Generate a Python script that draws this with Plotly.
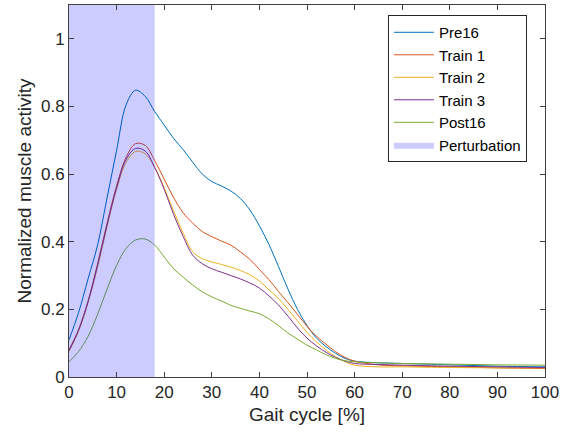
import plotly.graph_objects as go

gait = [0, 2, 4, 6, 8, 10, 12, 14, 16, 18, 20, 22, 24, 26, 28, 30, 32, 34, 36, 38,
        40, 42, 44, 46, 48, 50, 52, 54, 56, 58, 60, 65, 70, 80, 90, 100]

pre16 = [0.11, 0.19, 0.29, 0.39, 0.53, 0.67, 0.805, 0.848, 0.83, 0.785, 0.745, 0.705,
         0.672, 0.635, 0.60, 0.578, 0.565, 0.55, 0.528, 0.494, 0.447, 0.392, 0.327,
         0.26, 0.2, 0.152, 0.115, 0.09, 0.07, 0.055, 0.047, 0.042, 0.04, 0.036,
         0.032, 0.03]
train1 = [0.08, 0.14, 0.225, 0.335, 0.455, 0.565, 0.65, 0.69, 0.685, 0.64, 0.585, 0.53,
          0.485, 0.455, 0.43, 0.415, 0.402, 0.39, 0.37, 0.348, 0.318, 0.288, 0.253, 0.22,
          0.185, 0.15, 0.12, 0.097, 0.075, 0.058, 0.047, 0.036, 0.033, 0.03, 0.027, 0.025]
train2 = [0.075, 0.135, 0.22, 0.325, 0.445, 0.555, 0.635, 0.667, 0.66, 0.62, 0.56, 0.49,
          0.425, 0.37, 0.35, 0.34, 0.333, 0.325, 0.315, 0.302, 0.284, 0.258, 0.232, 0.2,
          0.166, 0.132, 0.104, 0.08, 0.06, 0.045, 0.035, 0.03, 0.03, 0.028, 0.027, 0.027]
train3 = [0.078, 0.138, 0.222, 0.33, 0.45, 0.56, 0.643, 0.676, 0.668, 0.62, 0.555, 0.48,
          0.415, 0.36, 0.335, 0.32, 0.31, 0.30, 0.29, 0.278, 0.263, 0.24, 0.213, 0.18,
          0.145, 0.115, 0.092, 0.073, 0.058, 0.047, 0.04, 0.037, 0.035, 0.032, 0.03, 0.028]
post16 = [0.045, 0.075, 0.12, 0.185, 0.26, 0.33, 0.38, 0.405, 0.408, 0.39, 0.355, 0.32,
          0.295, 0.272, 0.252, 0.237, 0.225, 0.212, 0.203, 0.195, 0.187, 0.172, 0.152,
          0.13, 0.112, 0.094, 0.08, 0.066, 0.055, 0.048, 0.045, 0.042, 0.04, 0.038,
          0.036, 0.035]

series_names = ["Pre16", "Train 1", "Train 2", "Train 3", "Post16"]
series_vals = [pre16, train1, train2, train3, post16]
colors = ["#0072BD", "#D95319", "#EDB120", "#7E2F8E", "#77AC30"]

pert_start, pert_end = 0, 18
y_max = 1.1

x_ticks = list(range(0, 101, 10))
y_ticks = [0, 0.2, 0.4, 0.6, 0.8, 1]
y_tick_labels = ["0", "0.2", "0.4", "0.6", "0.8", "1"]

fig = go.Figure()
for name, vals, c in zip(series_names, series_vals, colors):
    fig.add_trace(go.Scatter(x=gait, y=vals, mode="lines", name=name,
                             line=dict(color=c, width=1, shape="spline", smoothing=1)))

fig.add_trace(go.Scatter(
    x=[pert_start, pert_end, pert_end, pert_start, pert_start],
    y=[0, 0, y_max, y_max, 0],
    mode="lines", fill="toself", fillcolor="rgba(0,0,255,0.2)",
    line=dict(width=0, color="rgba(0,0,255,0)"), name="Perturbation"))

axis_common = dict(showline=True, linecolor="#404040", linewidth=1, mirror="ticks",
                   ticks="inside", ticklen=5, tickcolor="#404040", showgrid=False,
                   zeroline=False, automargin=False,
                   tickfont=dict(size=17, color="#262626"))

fig.update_xaxes(range=[0, 100], tickvals=x_ticks,
                 title=dict(text="Gait cycle [%]", font=dict(size=19, color="#262626"), standoff=6),
                 **axis_common)
fig.update_yaxes(range=[0, y_max], tickvals=y_ticks, ticktext=y_tick_labels,
                 title=dict(text="Normalized muscle activity", font=dict(size=19, color="#262626"), standoff=4),
                 **axis_common)

fig.update_layout(
    width=563, height=438,
    margin=dict(l=69, r=18, t=5, b=61),
    paper_bgcolor="white", plot_bgcolor="white",
    font=dict(family="Liberation Sans, Arial, sans-serif", size=16, color="#262626"),
    legend=dict(x=0.962, y=0.973, xanchor="right", yanchor="top",
                bgcolor="white", bordercolor="#262626", borderwidth=1,
                font=dict(size=15, color="#000000"), tracegroupgap=0,
                itemwidth=40),
    showlegend=True,
)

fig.write_html("out.html", config={"displayModeBar": False},
               post_script="document.body.style.margin='0';")
